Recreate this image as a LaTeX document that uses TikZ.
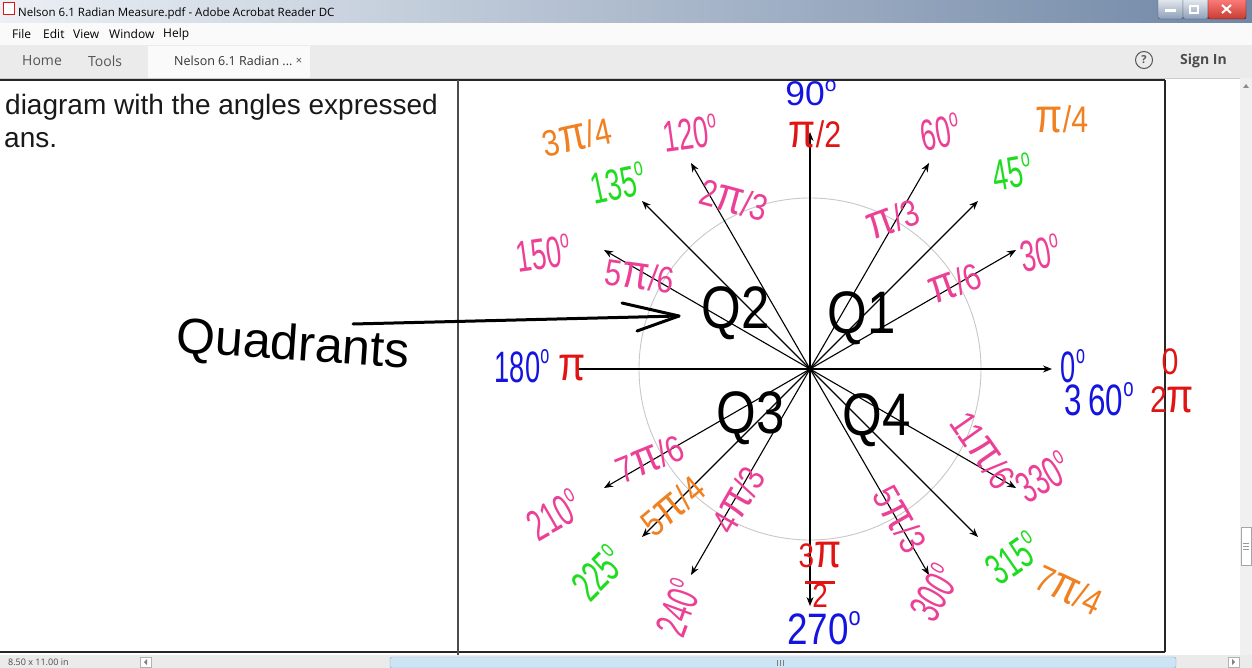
\documentclass[tikz,border=0pt]{standalone}
\usepackage{fontspec}
\setmainfont{Liberation Sans}
\newfontfamily\hand[FakeStretch=0.62]{Liberation Sans}
\newfontfamily\handr[FakeStretch=0.82]{Liberation Sans}
\newfontfamily\qf[FakeStretch=0.85]{Liberation Sans}
\newfontfamily\ui{Open Sans}
\usetikzlibrary{arrows.meta}
\definecolor{pk}{RGB}{236,64,150}
\definecolor{gr}{RGB}{30,220,30}
\definecolor{og}{RGB}{240,128,32}
\definecolor{rd}{RGB}{225,20,20}
\definecolor{bl}{RGB}{20,20,225}
\definecolor{titleL}{RGB}{236,240,245}
\definecolor{titleR}{RGB}{112,135,166}
\definecolor{tabbg}{RGB}{235,235,235}
\definecolor{menubg}{RGB}{250,250,250}
\definecolor{uitext}{RGB}{85,85,85}
\definecolor{circ}{RGB}{200,200,200}
\definecolor{closebot}{RGB}{200,60,50}
\definecolor{sbdraw}{RGB}{130,170,205}
\definecolor{sbfill}{RGB}{205,228,245}
\newcommand\dg{\raisebox{0.42em}{\fontsize{26}{26}\selectfont o}}
\newcommand\p{{\fontsize{48}{38}\selectfont π}}
\begin{document}
\begin{tikzpicture}[x=1pt,y=-1pt,
  deg/.style={font=\hand\fontsize{44}{44}\selectfont, inner sep=0pt},
  rad/.style={font=\handr\fontsize{37}{37}\selectfont, inner sep=0pt},
  quad/.style={font=\qf\fontsize{60}{60}\selectfont, inner sep=0pt},
  ray/.style={line width=1.1pt, -{Stealth[length=9pt,width=7pt]}},
  uilab/.style={font=\ui\fontsize{12}{12}\selectfont, inner sep=0pt, anchor=west},
  tablab/.style={font=\ui\fontsize{14}{14}\selectfont, inner sep=0pt, text=uitext}
]
\useasboundingbox (0,0) rectangle (1252,668);
\fill[white] (0,0) rectangle (1252,668);
% title bar
\shade[left color=titleL, right color=titleR] (0,0) rectangle (1252,23);
\fill[white] (3,3) rectangle (14,15);
\draw[rd, line width=1pt] (3,3) rectangle (14,15);
\node[uilab, anchor=west, font=\ui\fontsize{11.5}{12}\selectfont] (title) at (18,13) {Nelson 6.1 Radian Measure.pdf - Adobe Acrobat Reader DC};
\shade[top color=white!85!titleR, bottom color=titleR!80!white, draw=titleR!60!black, rounded corners=2pt] (1158,-2) rectangle (1183,19);
\shade[top color=white!85!titleR, bottom color=titleR!80!white, draw=titleR!60!black, rounded corners=2pt] (1183,-2) rectangle (1208,19);
\shade[top color=red!50!white, bottom color=closebot, draw=red!40!black, rounded corners=2pt] (1208,-2) rectangle (1246,19);
\fill[white] (1165,9) rectangle (1176,12);
\draw[white, line width=1.5pt] (1190,6) rectangle (1198,13);
\draw[white, line width=2pt] (1222,5) -- (1231,13) (1222,13) -- (1231,5);
% menu bar
\fill[menubg] (0,23) rectangle (1252,45);
\node[uilab] (mFile) at (12,34) {File};
\node[uilab] (mEdit) at (43,34) {Edit};
\node[uilab] (mView) at (73,34) {View};
\node[uilab] (mWindow) at (109,34) {Window};
\node[uilab] (mHelp) at (163,34) {Help};
% tab bar
\fill[tabbg] (0,45) rectangle (1252,78);
\fill[menubg] (148,46) rectangle (310,78);
\node[tablab, anchor=west] (tHome) at (22,61) {Home};
\node[tablab, anchor=west] (tTools) at (88,61) {Tools};
\node[tablab, anchor=west, font=\ui\fontsize{12.5}{13}\selectfont, text=black!80] (tDoc) at (174,61) {Nelson 6.1 Radian ...};
\node[tablab, font=\ui\fontsize{11}{11}\selectfont, text=black!70] (tX) at (299,61) {×};
\draw[uitext, line width=1pt] (1144,60) circle (8.5);
\node[tablab, font=\ui\fontsize{11}{11}\selectfont\bfseries] (qm) at (1144,60) {?};
\node[tablab, anchor=west, font=\ui\fontsize{14}{14}\selectfont\bfseries, text=black!70] (signin) at (1180,61) {Sign In};
\draw[black!20] (0,78) -- (1252,78);
% right scrollbar
\fill[black!6] (1240,78) rectangle (1252,655);
\fill[black!45] (1243,88) -- (1249,88) -- (1246,84) -- cycle;
\draw[black!35, fill=white] (1241,527) rectangle (1251,565);
\draw[black!40] (1243,543) -- (1249,543) (1243,546) -- (1249,546) (1243,549) -- (1249,549);
% page frame
\draw[black!85, line width=1.4pt] (0,80) -- (1165,80);
\draw[black!85, line width=1.2pt] (0,652) -- (1165,652);
\draw[black!70, line width=1.4pt] (458,80) -- (458,657);
\draw[black!85, line width=1.2pt] (1165,80) -- (1165,652);
% status bar
\fill[black!8] (0,655) rectangle (1252,668);
\node[uilab, font=\ui\fontsize{9}{9}\selectfont, text=black!70] (size) at (8,662) {8.50 x 11.00 in};
\draw[black!30, fill=white] (140,657) rectangle (151,667);
\fill[black!50] (147,659) -- (147,665) -- (144,662) -- cycle;
\draw[sbdraw, fill=sbfill, rounded corners=2pt] (390,657) rectangle (1176,668);
\draw[black!50] (777,660) -- (777,666) (780,660) -- (780,666) (783,660) -- (783,666);
\draw[black!30, fill=white] (1228,657) rectangle (1239,667);
\fill[black!50] (1232,659) -- (1232,665) -- (1235,662) -- cycle;
% document text
\node[anchor=base west, inner sep=0pt, font=\fontsize{28}{32}\selectfont, text=black!90] (doc1) at (5,115) {diagram with the angles expressed};
\node[anchor=base west, inner sep=0pt, font=\fontsize{28}{32}\selectfont, text=black!90] (doc2) at (4,148) {ans.};
% unit circle
\coordinate (O) at (810,369);
\draw[circ, line width=0.9pt] (O) circle (171);
% axes and rays
\coordinate (t0) at (1052,369);
\coordinate (t30) at (1016,250);
\coordinate (t45) at (978,201);
\coordinate (t60) at (929,163);
\coordinate (t90) at (810,132);
\coordinate (t120) at (691,163);
\coordinate (t135) at (642,201);
\coordinate (t150) at (604,250);
\coordinate (t180) at (578,369);
\coordinate (t210) at (604,488);
\coordinate (t225) at (642,537);
\coordinate (t240) at (691,575);
\coordinate (t270) at (810,606);
\coordinate (t300) at (929,575);
\coordinate (t315) at (978,537);
\coordinate (t330) at (1016,488);
\draw[line width=1.1pt] (O) -- (t180);
\foreach \a in {0,30,45,60,90,120,135,150,210,225,240,270,300,315,330}
  \draw[ray] (O) -- (t\a);
% degree labels
\node[deg, text=bl, xscale=1.3, yscale=0.78] (d90) at (811,93) {90\dg};
\node[deg, text=pk, rotate=10] (d60) at (940,132) {60\dg};
\node[deg, text=gr, rotate=10] (d45) at (1012,172) {45\dg};
\node[deg, text=pk, rotate=10] (d30) at (1040,253) {30\dg};
\node[deg, text=pk, rotate=8] (d120) at (690,133) {120\dg};
\node[deg, text=gr, rotate=12] (d135) at (618,183) {135\dg};
\node[deg, text=pk, rotate=8] (d150) at (543,253) {150\dg};
\node[deg, text=bl] (d180) at (522,366) {180\dg};
\node[deg, text=bl] (d0) at (1073,366) {0\dg};
\node[deg, text=bl, xscale=1.15] (d360) at (1099,399) {3\hspace{6pt}60\dg};
\node[deg, text=pk, rotate=30] (d210) at (554,515) {210\dg};
\node[deg, text=gr, rotate=45] (d225) at (598,573) {225\dg};
\node[deg, text=pk, rotate=70] (d240) at (678,608) {240\dg};
\node[deg, text=bl, xscale=1.35] (d270) at (824,628) {270\dg};
\node[deg, text=pk, rotate=60] (d300) at (934,593) {300\dg};
\node[deg, text=gr, rotate=35] (d315) at (1013,558) {315\dg};
\node[deg, text=pk, rotate=30] (d330) at (1043,477) {330\dg};
% radian labels
\node[rad, text=rd] (r90) at (815,134) {\p/2};
\node[rad, text=og] (r45) at (1062,119) {\p/4};
\node[rad, text=pk, rotate=20] (r60) at (893,219) {\p/3};
\node[rad, text=pk, rotate=20] (r30) at (955,283) {\p/6};
\node[rad, text=og, rotate=12] (r135) at (577,137) {3\p/4};
\node[rad, text=pk, rotate=-15] (r120) at (734,200) {2\p/3};
\node[rad, text=pk, rotate=-8] (r150) at (640,276) {5\p/6};
\node[rad, text=rd] (r180) at (572,368) {\p};
\node[rad, text=rd] (r0a) at (1170,362) {0};
\node[rad, text=rd] (r0b) at (1172,400) {2\p};
\node[rad, text=pk, rotate=22] (r210) at (650,459) {7\p/6};
\node[rad, text=og, rotate=40] (r225) at (673,506) {5\p/4};
\node[rad, text=pk, rotate=60] (r240) at (738,500) {4\p/3};
\node[rad, text=rd, align=center, font=\handr\fontsize{34}{30}\selectfont] (r270) at (820,575) {3\p\\[-14pt]\rule{30pt}{2.5pt}\\[-6pt]2};
\node[rad, text=pk, rotate=-60] (r300) at (900,519) {5\p/3};
\node[rad, text=og, rotate=-25] (r315) at (1069,590) {7\p/4};
\node[rad, text=pk, rotate=-55] (r330) at (983,450) {11\p/6};
% quadrant labels
\node[quad] (Q1) at (862,318) {Q1};
\node[quad] (Q2) at (736,313) {Q2};
\node[quad] (Q3) at (751,418) {Q3};
\node[quad] (Q4) at (877,420) {Q4};
% Quadrants annotation
\node[inner sep=0pt, font=\fontsize{50}{50}\selectfont, rotate=-4] (quadtxt) at (293,347) {Quadrants};
\coordinate (qa) at (353,324);
\coordinate (qt) at (679,316);
\coordinate (w1) at (622,303);
\coordinate (w2) at (637,331);
\draw[line width=3pt, line cap=round, line join=round] (qa) -- (qt);
\draw[line width=3pt, line cap=round, line join=round] (w1) -- (qt) -- (w2);
\end{tikzpicture}
\end{document}
